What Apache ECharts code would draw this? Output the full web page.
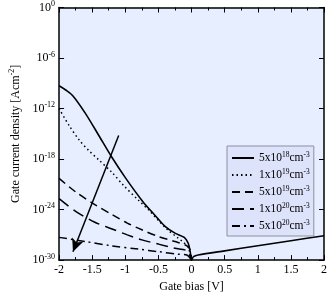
<!DOCTYPE html>
<html><head><meta charset="utf-8">
<script src="https://cdn.jsdelivr.net/npm/echarts@6/dist/echarts.min.js"></script>
<style>html,body{margin:0;padding:0;background:#fff}#c{width:330px;height:298px}</style>
</head><body><div id="c"></div>
<script>
// Gate bias [V] and log10 of gate current density [A cm^-2]
const biasA = [-2, -1.9, -1.79, -1.6, -1.4, -1.21, -1.0, -0.74, -0.55, -0.4, -0.25, -0.11, -0.05, -0.02, 0, 0.03, 0.1, 0.5, 1.0, 1.5, 2.0];
const expA  = [-9.3, -9.8, -10.5, -12.6, -15.2, -17.7, -20.2, -23.0, -24.7, -26.0, -26.8, -27.3, -28.0, -29.0, -30, -29.6, -29.4, -28.9, -28.3, -27.7, -27.1];
const biasB = [-2, -1.85, -1.69, -1.55, -1.4, -1.2, -1.03, -0.8, -0.64, -0.5, -0.36, -0.2, -0.12, -0.05, 0];
const expB  = [-12.0, -14.0, -15.8, -17.0, -18.1, -19.6, -21.1, -22.9, -24.1, -25.3, -26.4, -27.4, -27.9, -28.5, -30];
const biasC = [-2, -1.75, -1.46, -1.2, -0.97, -0.75, -0.5, -0.25, -0.07, -0.02, 0];
const expC  = [-20.3, -21.9, -23.4, -24.6, -25.6, -26.4, -27.2, -27.8, -28.3, -28.8, -30];
const biasD = [-2, -1.75, -1.46, -1.2, -0.97, -0.75, -0.5, -0.25, -0.07, 0];
const expD  = [-22.7, -24.2, -25.5, -26.3, -27.0, -27.6, -28.1, -28.6, -28.9, -30];
const biasE = [-2, -1.6, -1.21, -0.8, -0.5, -0.2, -0.07, 0];
const expE  = [-27.3, -27.8, -28.3, -28.7, -29.0, -29.3, -29.4, -30];
const seriesNames = ['5x10|18', '1x10|19', '5x10|19', '1x10|20', '5x10|20'];
const arrowFrom = [-1.1, -15.2];
const arrowTo = [-1.79, -29.0];

const pairs = (xs, es) => xs.map((x, i) => [x, es[i]]);
const F = 'Liberation Serif';
const rich = {
  b: {fontFamily: F, fontSize: 12, color: '#000'},
  s: {fontFamily: F, fontSize: 8, color: '#000', verticalAlign: 'bottom', padding: [0, 0, 7, 0]}
};
const lgRich = {
  b: {fontFamily: F, fontSize: 11.5, color: '#000'},
  s: {fontFamily: F, fontSize: 7.5, color: '#000', verticalAlign: 'bottom', padding: [0, 0, 6, 0]}
};
const styles = [
  {type: 'solid', width: 1.6},
  {type: [1.5, 3], width: 1.5},
  {type: [8, 5], width: 1.5},
  {type: [12, 6], width: 1.5},
  {type: [8, 4, 2, 4], width: 1.5}
];
const datas = [pairs(biasA, expA), pairs(biasB, expB), pairs(biasC, expC), pairs(biasD, expD), pairs(biasE, expE)];
const series = datas.map((d, i) => ({
  name: seriesNames[i], type: 'line', data: d, symbol: 'none', smooth: 0.3,
  lineStyle: Object.assign({color: '#000'}, styles[i]), itemStyle: {color: '#000'}
}));
series.push({
  type: 'line', data: [], symbol: 'none',
  markLine: {
    silent: true, symbol: ['none', 'arrow'], symbolSize: [9, 13],
    lineStyle: {color: '#000', type: 'solid', width: 1.5}, label: {show: false},
    data: [[{coord: arrowFrom}, {coord: arrowTo}]]
  }
});
const xBase = {
  type: 'value', min: -2, max: 2, interval: 0.5,
  axisLine: {onZero: false, lineStyle: {color: '#000', width: 1.5}},
  axisTick: {inside: true, length: 5, lineStyle: {color: '#000'}},
  minorTick: {show: true, splitNumber: 2, length: 3, lineStyle: {color: '#000'}},
  splitLine: {show: false}
};
const yBase = {
  type: 'value', min: -30, max: 0, interval: 6,
  axisLine: {onZero: false, lineStyle: {color: '#000', width: 1.5}},
  axisTick: {inside: true, length: 5, lineStyle: {color: '#000'}},
  splitLine: {show: false}
};
const chart = echarts.init(document.getElementById('c'), null, {renderer: 'canvas'});
chart.setOption({
  animation: false,
  grid: {left: 45, right: 4, top: 7, bottom: 27, show: true, backgroundColor: '#e6eeff', borderWidth: 0},
  legend: {
    data: seriesNames,
    orient: 'vertical', left: 227, top: 146, itemWidth: 22, itemHeight: 10, itemGap: 4,
    padding: [5, 4, 4, 4],
    itemStyle: {opacity: 0},
    backgroundColor: '#dde3fa', borderColor: '#8c90a0', borderWidth: 1,
    formatter: n => { const p = n.split('|'); return '{b|' + p[0] + '}{s|' + p[1] + '}{b|cm}{s|-3}'; },
    textStyle: {rich: lgRich}
  },
  xAxis: [
    Object.assign({}, xBase, {
      position: 'bottom', name: 'Gate bias [V]', nameLocation: 'middle', nameGap: 19,
      nameTextStyle: {fontFamily: F, fontSize: 12, color: '#000'},
      axisLabel: {fontFamily: F, fontSize: 12, color: '#000', margin: 4}
    }),
    Object.assign({}, xBase, {position: 'top', axisLabel: {show: false}})
  ],
  yAxis: [
    Object.assign({}, yBase, {
      position: 'left', name: '{b|Gate current density [Acm}{s|-2}{b|]}', nameLocation: 'middle', nameGap: 33,
      nameTextStyle: {rich: rich},
      axisLabel: {margin: 4, formatter: v => '{b|10}{s|' + v + '}', rich: rich}
    }),
    Object.assign({}, yBase, {position: 'right', axisLabel: {show: false}})
  ],
  series: series
});
</script></body></html>
